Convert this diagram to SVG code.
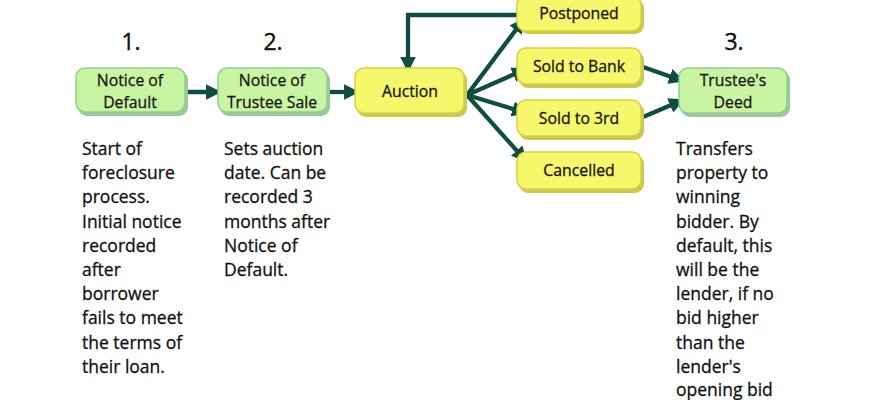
<svg xmlns="http://www.w3.org/2000/svg" width="870" height="400" viewBox="0 0 870 400">
<defs>
<style>
.g{fill:#c9f5a3;stroke:#8fcf8f;stroke-width:1.5}
.gs{fill:#9cc79c}
.y{fill:#f7f76c;stroke:#d4d442;stroke-width:1.5}
.ys{fill:#c9c94f}
.lbl{font-family:"Open Sans","DejaVu Sans",sans-serif;font-size:15.8px;fill:#151515;stroke:#151515;stroke-width:0.3;text-anchor:middle}
.num{font-family:"Open Sans","DejaVu Sans",sans-serif;font-size:23px;fill:#111;stroke:#111;stroke-width:0.4;text-anchor:middle}
.body{font-family:"Open Sans","DejaVu Sans",sans-serif;font-size:17.5px;fill:#111;stroke:#111;stroke-width:0.3}
.c{fill:none;stroke:#0f4d40;stroke-width:4.3}
</style>
<marker id="ah" viewBox="0 0 10 10" refX="9" refY="5" markerWidth="3.6" markerHeight="3.6" orient="auto" markerUnits="strokeWidth">
<path d="M0,0 L10,5 L0,10 z" fill="#0f4d40"/>
</marker>
</defs>
<rect width="870" height="400" fill="#ffffff"/>

<text class="num" x="131" y="50">1.</text>
<text class="num" x="273" y="50">2.</text>
<text class="num" x="734" y="50">3.</text>

<g id="connectors">
<line class="c" x1="187" y1="92" x2="220" y2="92" marker-end="url(#ah)"/>
<line class="c" x1="329" y1="92" x2="358" y2="92" marker-end="url(#ah)"/>
<polyline class="c" points="517,15 408,15 408,71" marker-end="url(#ah)"/>
<line class="c" x1="467" y1="95" x2="524" y2="19" marker-end="url(#ah)"/>
<line class="c" x1="467" y1="95" x2="526" y2="69" marker-end="url(#ah)"/>
<line class="c" x1="467" y1="95" x2="526" y2="113" marker-end="url(#ah)"/>
<line class="c" x1="467" y1="95" x2="526" y2="161" marker-end="url(#ah)"/>
<line class="c" x1="643" y1="67" x2="683" y2="81" marker-end="url(#ah)"/>
<line class="c" x1="643" y1="117" x2="683" y2="100" marker-end="url(#ah)"/>
</g>

<g id="notice-default">
<rect class="gs" x="78" y="71" width="110" height="45" rx="9"/>
<rect class="g" x="76" y="68" width="109" height="44" rx="9"/>
<text class="lbl" x="130" y="86">Notice of</text>
<text class="lbl" x="130" y="107.5">Default</text>
</g>

<g id="notice-trustee-sale">
<rect class="gs" x="220" y="71" width="110" height="45" rx="9"/>
<rect class="g" x="218" y="68" width="109" height="44" rx="9"/>
<text class="lbl" x="272" y="86">Notice of</text>
<text class="lbl" x="272" y="107.5">Trustee Sale</text>
</g>

<g id="auction">
<rect class="ys" x="357" y="71" width="110" height="46" rx="9"/>
<rect class="y" x="355" y="68" width="109" height="45" rx="9"/>
<text class="lbl" x="410" y="97">Auction</text>
</g>

<g id="postponed">
<rect class="ys" x="519" y="-1" width="125" height="35" rx="9"/>
<rect class="y" x="517" y="-4" width="124" height="35" rx="9"/>
<text class="lbl" x="579" y="19">Postponed</text>
</g>

<g id="sold-bank">
<rect class="ys" x="519" y="51" width="125" height="37" rx="9"/>
<rect class="y" x="517" y="48" width="124" height="36" rx="9"/>
<text class="lbl" x="579" y="72">Sold to Bank</text>
</g>

<g id="sold-3rd">
<rect class="ys" x="519" y="103" width="125" height="37" rx="9"/>
<rect class="y" x="517" y="100" width="124" height="36" rx="9"/>
<text class="lbl" x="579" y="124">Sold to 3rd</text>
</g>

<g id="cancelled">
<rect class="ys" x="519" y="155" width="125" height="38" rx="9"/>
<rect class="y" x="517" y="152" width="124" height="37" rx="9"/>
<text class="lbl" x="579" y="176">Cancelled</text>
</g>

<g id="trustees-deed">
<rect class="gs" x="681" y="71" width="109" height="46" rx="9"/>
<rect class="g" x="679" y="68" width="108" height="45" rx="9"/>
<text class="lbl" x="733" y="86">Trustee's</text>
<text class="lbl" x="733" y="107.5">Deed</text>
</g>

<text class="body" x="82">
<tspan x="82" y="155">Start of</tspan>
<tspan x="82" y="179.2">foreclosure</tspan>
<tspan x="82" y="203.4">process.</tspan>
<tspan x="82" y="227.6">Initial notice</tspan>
<tspan x="82" y="251.8">recorded</tspan>
<tspan x="82" y="276">after</tspan>
<tspan x="82" y="300.2">borrower</tspan>
<tspan x="82" y="324.4">fails to meet</tspan>
<tspan x="82" y="348.6">the terms of</tspan>
<tspan x="82" y="372.8">their loan.</tspan>
</text>

<text class="body" x="224">
<tspan x="224" y="155">Sets auction</tspan>
<tspan x="224" y="179.2">date. Can be</tspan>
<tspan x="224" y="203.4">recorded 3</tspan>
<tspan x="224" y="227.6">months after</tspan>
<tspan x="224" y="251.8">Notice of</tspan>
<tspan x="224" y="276">Default.</tspan>
</text>

<text class="body" x="676">
<tspan x="676" y="155">Transfers</tspan>
<tspan x="676" y="179.2">property to</tspan>
<tspan x="676" y="203.4">winning</tspan>
<tspan x="676" y="227.6">bidder. By</tspan>
<tspan x="676" y="251.8">default, this</tspan>
<tspan x="676" y="276">will be the</tspan>
<tspan x="676" y="300.2">lender, if no</tspan>
<tspan x="676" y="324.4">bid higher</tspan>
<tspan x="676" y="348.6">than the</tspan>
<tspan x="676" y="372.8">lender's</tspan>
<tspan x="676" y="396">opening bid</tspan>
</text>
</svg>
